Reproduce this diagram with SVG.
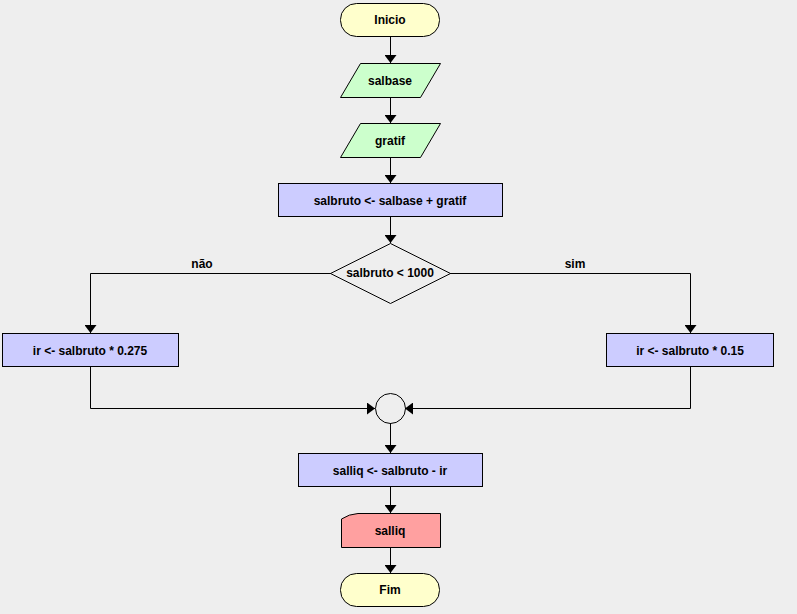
<svg xmlns="http://www.w3.org/2000/svg" width="797" height="614" viewBox="0 0 797 614">
<style>
.s{stroke:#000;stroke-width:1}
.term{fill:#ffffcc}
.inp{fill:#ccffcc}
.proc{fill:#ccccff}
.dec{fill:none}
.out{fill:#ffa0a0}
.join{fill:none}
.c{fill:none;stroke:#000;stroke-width:1;marker-end:url(#ah)}
text{font-family:"Liberation Sans",Arial,sans-serif;font-size:12px;font-weight:bold;text-anchor:middle;fill:#000}
</style>
<defs>
<marker id="ah" markerUnits="userSpaceOnUse" markerWidth="8" markerHeight="12" viewBox="0 0 8 12" refX="8" refY="6" orient="auto">
<path d="M0,0 L8,6 L0,12 z" fill="#000"/>
</marker>
</defs>
<rect width="797" height="614" fill="#eeeeee"/>
<g id="connectors">
<path class="c" d="M390.5,37 V63"/>
<path class="c" d="M390.5,97 V123"/>
<path class="c" d="M390.5,157 V183"/>
<path class="c" d="M390.5,217 V243"/>
<path class="c" d="M331,273.5 H90.5 V333"/>
<path class="c" d="M450,273.5 H690.5 V333"/>
<path class="c" d="M90.5,367 V408.5 H375"/>
<path class="c" d="M690.5,367 V408.5 H405"/>
<path class="c" d="M390.5,423 V453"/>
<path class="c" d="M390.5,487 V513"/>
<path class="c" d="M390.5,547 V573"/>
<text x="202" y="268">não</text>
<text x="575" y="268">sim</text>
</g>
<g id="inicio">
<rect class="term s" x="340.5" y="3.5" width="99" height="33" rx="16" ry="16"/>
<text x="390" y="24">Inicio</text>
</g>
<g id="salbase">
<polygon class="inp s" points="360.5,63.5 440.5,63.5 420.5,97.5 340.5,97.5"/>
<text x="390" y="85">salbase</text>
</g>
<g id="gratif">
<polygon class="inp s" points="360.5,123.5 440.5,123.5 420.5,157.5 340.5,157.5"/>
<text x="390" y="145">gratif</text>
</g>
<g id="salbruto">
<rect class="proc s" x="278.5" y="183.5" width="224" height="33"/>
<text x="390" y="205">salbruto &lt;- salbase + gratif</text>
</g>
<g id="decisao">
<polygon class="dec s" points="390.5,243.5 450.5,273.5 390.5,303.5 330.5,273.5"/>
<text x="390" y="277">salbruto &lt; 1000</text>
</g>
<g id="ir_nao">
<rect class="proc s" x="2.5" y="333.5" width="176" height="33"/>
<text x="90" y="355">ir &lt;- salbruto * 0.275</text>
</g>
<g id="ir_sim">
<rect class="proc s" x="606.5" y="333.5" width="167" height="33"/>
<text x="690" y="355">ir &lt;- salbruto * 0.15</text>
</g>
<g id="juncao">
<circle class="join s" cx="390.5" cy="408.5" r="15"/>
</g>
<g id="salliq_calc">
<rect class="proc s" x="298.5" y="453.5" width="184" height="33"/>
<text x="390" y="475">salliq &lt;- salbruto - ir</text>
</g>
<g id="salliq_out">
<path class="out s" d="M341.5,519 Q349,514 358,513.5 H440.5 V547.5 H341.5 Z"/>
<text x="390" y="535">salliq</text>
</g>
<g id="fim">
<rect class="term s" x="340.5" y="573.5" width="99" height="33" rx="16" ry="16"/>
<text x="390" y="594">Fim</text>
</g>
</svg>
